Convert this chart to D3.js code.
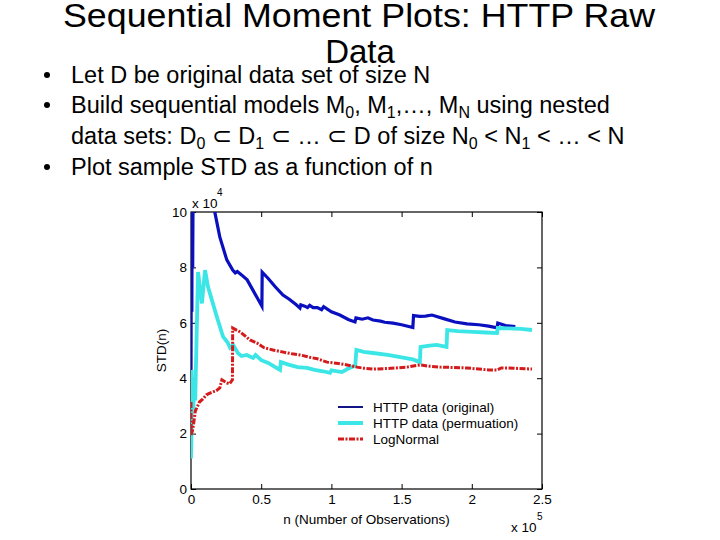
<!DOCTYPE html>
<html>
<head>
<meta charset="utf-8">
<script src="https://cdn.jsdelivr.net/npm/d3@7"></script>
<style>
  body { margin: 0; background: #fff; }
  svg { display: block; font-family: "Liberation Sans", Arial, sans-serif; }
</style>
</head>
<body>
<div id="chart"></div>
<script>
// n (observations) and sample STD
const originalN = [0, 300, 600, 900, 1200, 1600, 4000, 10000, 17100, 20500, 25500, 29700, 31500, 33000, 36000, 40000, 50500, 50700, 55000, 60000, 65500, 70000, 75000, 77600, 78200, 81000, 83000, 84500, 87000, 90000, 93000, 94500, 100000, 106000, 112000, 116800, 117500, 122000, 126000, 129600, 135000, 138000, 143900, 150000, 158000, 158500, 163000, 167000, 171600, 180000, 188000, 196600, 205000, 212000, 218000, 218500, 224000, 231000];
const originalStd = [38000, 120000, 64000, 120000, 80000, 120000, 140000, 125000, 99600, 91000, 82700, 79000, 78000, 78500, 77300, 75500, 66000, 78300, 76000, 73000, 70000, 68500, 66500, 65300, 66500, 66000, 65500, 66300, 65500, 65500, 64700, 65800, 64000, 62800, 61200, 60300, 61800, 61300, 61800, 61000, 60600, 60200, 59900, 59300, 58300, 62600, 62300, 62400, 62800, 61500, 60300, 59600, 59300, 58800, 58200, 59900, 59000, 58600];

const permN = [0, 300, 500, 800, 1200, 1600, 2200, 3000, 5000, 7800, 10000, 12100, 15000, 18500, 22800, 26000, 27800, 30000, 33500, 36000, 39700, 44200, 46000, 50000, 55000, 60000, 63400, 64000, 70000, 76000, 82600, 88000, 94000, 99000, 100000, 107500, 112000, 117000, 117800, 123000, 129600, 140000, 150000, 158000, 163000, 163500, 170000, 175000, 182000, 182500, 190000, 200800, 210000, 218000, 218500, 226000, 235000, 242900];
const permStd = [11000, 18000, 43000, 30000, 38000, 28500, 36000, 32000, 78300, 67000, 79000, 73000, 68000, 62000, 55000, 53000, 51000, 52000, 49000, 48000, 48400, 47300, 48400, 46500, 45500, 44000, 43000, 45800, 44800, 44000, 43700, 43000, 42500, 41900, 42800, 42200, 43500, 44500, 50200, 49500, 49100, 48400, 47500, 46800, 45800, 51300, 51800, 52000, 51300, 57400, 57000, 56700, 56500, 56300, 58100, 58000, 57800, 57400];

const logNormalN = [0, 0, 1000, 2000, 3000, 6000, 8500, 11000, 13000, 15500, 18000, 20500, 22000, 25500, 27500, 29500, 29700, 35000, 42000, 47000, 52000, 58400, 65000, 72000, 77600, 85000, 90000, 96900, 105000, 112000, 118200, 123000, 129600, 140000, 153800, 163000, 170000, 177400, 185000, 196600, 205000, 212000, 218000, 221000, 230000, 242900];
const logNormalStd = [31400, 19500, 21000, 24000, 28000, 31400, 32500, 34000, 34500, 35000, 35500, 36500, 39400, 38300, 38000, 39400, 58100, 56700, 53800, 52700, 51000, 50200, 49500, 48800, 48400, 47500, 47000, 45800, 45300, 44700, 44000, 43600, 43300, 43500, 44000, 44800, 44300, 44000, 43900, 43700, 43300, 43000, 43000, 43700, 43600, 43300];

const xTicks = [0, 50000, 100000, 150000, 200000, 250000];
const yTicks = [0, 20000, 40000, 60000, 80000, 100000];
const seriesNames = ["HTTP data (original)", "HTTP data (permuation)", "LogNormal"];

const width = 720, height = 540;
const margin = { top: 212, right: 178, bottom: 51, left: 191 };

const svg = d3.select("#chart").append("svg")
  .attr("width", width)
  .attr("height", height);

// Slide text
const title = svg.append("g").attr("font-size", 33).attr("fill", "#000");
title.append("text")
  .attr("x", 359).attr("y", 27)
  .attr("text-anchor", "middle")
  .attr("textLength", 592)
  .attr("lengthAdjust", "spacingAndGlyphs")
  .text("Sequential Moment Plots: HTTP Raw");
title.append("text")
  .attr("x", 360).attr("y", 63)
  .attr("text-anchor", "middle")
  .text("Data");

const bullets = [
  { y: 83, bullet: true, parts: [["Let D be original data set of size N"]] },
  { y: 113, bullet: true, parts: [["Build sequential models M"], ["0", 1], [", M"], ["1", 1], [",…, M"], ["N", 1], [" using nested"]] },
  { y: 144, bullet: false, parts: [["data sets: D"], ["0", 1], [" ⊂ D"], ["1", 1], [" ⊂ … ⊂ D of size N"], ["0", 1], [" < N"], ["1", 1], [" < … < N"]] },
  { y: 175, bullet: true, parts: [["Plot sample STD as a function of n"]] },
];
const gb = svg.append("g").attr("font-size", 23.5).attr("fill", "#000");
bullets.forEach((b) => {
  if (b.bullet) {
    gb.append("circle").attr("cx", 47).attr("cy", b.y - 8).attr("r", 3);
  }
  const t = gb.append("text").attr("x", 71).attr("y", b.y);
  let down = false;
  b.parts.forEach(([s, sub]) => {
    const ts = t.append("tspan").text(s);
    if (sub && !down) { ts.attr("dy", 5).attr("font-size", 16); down = true; }
    else if (sub) { ts.attr("font-size", 16); }
    else if (down) { ts.attr("dy", -5); down = false; }
  });
});

// Scales
const x = d3.scaleLinear().domain([0, 250000]).range([margin.left, width - margin.right]);
const y = d3.scaleLinear().domain([0, 100000]).range([height - margin.bottom, margin.top]);

svg.append("defs").append("clipPath").attr("id", "plot-clip")
  .append("rect")
  .attr("x", x(0)).attr("y", y(100000))
  .attr("width", x(250000) - x(0)).attr("height", y(0) - y(100000));

// Axes (inward ticks, MATLAB style)
const fmtX = (d) => d3.format("")(d / 1e5);
const fmtY = (d) => d3.format("")(d / 1e4);
const axisFont = (g) => g.attr("font-size", null).attr("font-family", null);

svg.append("g")
  .attr("transform", `translate(0,${y(0)})`)
  .call(d3.axisBottom(x).tickValues(xTicks).tickFormat(fmtX).tickSize(-5).tickSizeOuter(0).tickPadding(5))
  .call(axisFont)
  .call((g) => g.select(".domain").remove());
svg.append("g")
  .attr("transform", `translate(0,${y(100000)})`)
  .call(d3.axisTop(x).tickValues(xTicks).tickFormat("").tickSize(-5).tickSizeOuter(0))
  .call((g) => g.select(".domain").remove());
svg.append("g")
  .attr("transform", `translate(${x(0)},0)`)
  .call(d3.axisLeft(y).tickValues(yTicks).tickFormat(fmtY).tickSize(-5).tickSizeOuter(0).tickPadding(4))
  .call(axisFont)
  .call((g) => g.select(".domain").remove());
svg.append("g")
  .attr("transform", `translate(${x(250000)},0)`)
  .call(d3.axisRight(y).tickValues(yTicks).tickFormat("").tickSize(-5).tickSizeOuter(0))
  .call((g) => g.select(".domain").remove());

svg.selectAll(".tick text").attr("font-size", 13.5).attr("fill", "#000");
svg.selectAll(".tick line").attr("stroke", "#000");

svg.append("rect")
  .attr("x", x(0)).attr("y", y(100000))
  .attr("width", x(250000) - x(0)).attr("height", y(0) - y(100000))
  .attr("fill", "none").attr("stroke", "#000").attr("stroke-width", 1.2);

// Multipliers and labels
const mult = svg.append("g").attr("font-size", 13.5).attr("fill", "#000");
mult.append("text").attr("x", 192).attr("y", 208).text("x 10");
mult.append("text").attr("x", 217).attr("y", 196).attr("font-size", 10).text("4");
mult.append("text").attr("x", 511).attr("y", 532).text("x 10");
mult.append("text").attr("x", 537).attr("y", 520).attr("font-size", 10).text("5");

svg.append("text")
  .attr("x", (x(0) + x(250000)) / 2).attr("y", 524)
  .attr("text-anchor", "middle").attr("font-size", 13.5)
  .text("n (Number of Observations)");
svg.append("text")
  .attr("transform", `translate(166,${(y(0) + y(100000)) / 2}) rotate(-90)`)
  .attr("text-anchor", "middle").attr("font-size", 13.5)
  .text("STD(n)");

// Lines
const series = [
  { n: originalN, s: originalStd, color: "#0a10c0", width: 3.2, dash: null },
  { n: permN, s: permStd, color: "#3ce6e6", width: 3.8, dash: null },
  { n: logNormalN, s: logNormalStd, color: "#d41a1a", width: 3, dash: "6,1.5,2,1.5" },
];
const line = d3.line().x((d) => x(d[0])).y((d) => y(d[1]));
const gLines = svg.append("g").attr("clip-path", "url(#plot-clip)");
series.forEach((d) => {
  gLines.append("path")
    .datum(d.n.map((v, i) => [v, d.s[i]]))
    .attr("d", line)
    .attr("fill", "none")
    .attr("stroke", d.color)
    .attr("stroke-width", d.width)
    .attr("stroke-linejoin", "miter")
    .attr("stroke-dasharray", d.dash);
});

// Legend
const legendColors = ["#121488", "#3ce6e6", "#d41a1a"];
const legendWidths = [2, 4, 3];
const legend = svg.append("g").attr("font-size", 13.5);
seriesNames.forEach((name, i) => {
  const ly = 407 + i * 16;
  legend.append("line")
    .attr("x1", 338).attr("x2", 363).attr("y1", ly).attr("y2", ly)
    .attr("stroke", legendColors[i])
    .attr("stroke-width", legendWidths[i])
    .attr("stroke-dasharray", series[i].dash);
  legend.append("text").attr("x", 373).attr("y", ly + 5).text(name);
});
</script>
</body>
</html>
